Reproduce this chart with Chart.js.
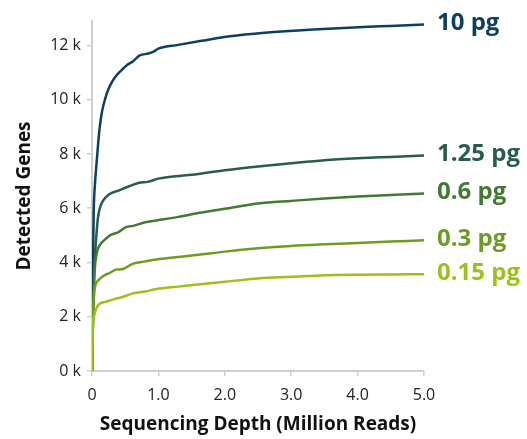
<!DOCTYPE html>
<html>
<head>
<meta charset="utf-8">
<script src="https://cdn.jsdelivr.net/npm/chart.js@4.4.0/dist/chart.umd.min.js"></script>
<style>
html,body{margin:0;padding:0;background:#fff;}
#wrap{width:527px;height:439px;position:relative;}
</style>
</head>
<body>
<div id="wrap"><canvas id="c" width="527" height="439"></canvas></div>
<script>
const seriesNames = ["10 pg", "1.25 pg", "0.6 pg", "0.3 pg", "0.15 pg"];
const seriesColors = ["#0d4060", "#285e49", "#437a32", "#6c9c20", "#9cc11a"];

const x10 = [0, 0.01, 0.025, 0.045, 0.07, 0.095, 0.12, 0.15, 0.2, 0.25, 0.3, 0.37, 0.45, 0.52, 0.62, 0.72, 0.85, 0.92, 1.0, 1.3, 1.65, 2.08, 2.6, 3.33, 4.0, 4.5, 5.0];
const y10 = [0, 3000, 5800, 6900, 7700, 8450, 9050, 9550, 10050, 10400, 10650, 10900, 11100, 11260, 11420, 11630, 11700, 11760, 11880, 12020, 12170, 12340, 12470, 12590, 12670, 12720, 12770];

const x125 = [0, 0.02, 0.04, 0.06, 0.085, 0.11, 0.16, 0.24, 0.41, 0.55, 0.71, 0.84, 1.0, 1.5, 2.0, 2.5, 3.0, 3.5, 4.0, 4.5, 5.0];
const y125 = [0, 2500, 4000, 4800, 5550, 5930, 6250, 6480, 6660, 6800, 6940, 6970, 7090, 7230, 7400, 7540, 7660, 7770, 7840, 7890, 7940];

const x06 = [0, 0.02, 0.04, 0.07, 0.12, 0.185, 0.27, 0.4, 0.51, 0.62, 0.8, 0.97, 1.3, 1.63, 2.0, 2.5, 3.0, 3.5, 4.0, 4.5, 5.0];
const y06 = [0, 2500, 3700, 4330, 4650, 4820, 5000, 5120, 5300, 5350, 5480, 5550, 5680, 5830, 5980, 6170, 6270, 6360, 6430, 6490, 6540];

const x03 = [0, 0.015, 0.03, 0.045, 0.1, 0.17, 0.27, 0.37, 0.45, 0.62, 0.8, 0.97, 1.3, 1.63, 2.0, 2.5, 3.0, 3.5, 4.0, 4.5, 5.0];
const y03 = [0, 2000, 2750, 3100, 3350, 3500, 3620, 3740, 3750, 3960, 4040, 4110, 4200, 4290, 4400, 4520, 4610, 4670, 4720, 4770, 4820];

const x015 = [0, 0.012, 0.035, 0.07, 0.12, 0.2, 0.3, 0.37, 0.45, 0.62, 0.8, 0.97, 1.3, 1.63, 2.0, 2.5, 3.0, 3.5, 4.0, 4.5, 5.0];
const y015 = [0, 1600, 2060, 2330, 2490, 2550, 2620, 2670, 2720, 2860, 2930, 3020, 3110, 3200, 3290, 3410, 3470, 3530, 3550, 3560, 3570];

const xTickValues = [0, 1, 2, 3, 4, 5];
const yTickValues = [0, 2000, 4000, 6000, 8000, 10000, 12000];

const xs = [x10, x125, x06, x03, x015];
const ys = [y10, y125, y06, y03, y015];

const datasets = seriesNames.map((name, i) => ({
  label: name,
  data: xs[i].map((x, j) => ({x: x, y: ys[i][j]})),
  borderColor: seriesColors[i],
  backgroundColor: seriesColors[i],
  borderWidth: 2.5,
  pointRadius: 0,
  fill: false,
  cubicInterpolationMode: 'monotone'
})).reverse();

const endLabels = {
  id: 'endLabels',
  afterDatasetsDraw(chart) {
    const ctx = chart.ctx;
    const xs_ = chart.scales.x, ys_ = chart.scales.y;
    ctx.save();
    ctx.font = "bold 24px 'Open Sans'";
    ctx.textAlign = 'left';
    ctx.textBaseline = 'middle';
    chart.data.datasets.forEach(ds => {
      const last = ds.data[ds.data.length - 1];
      ctx.fillStyle = ds.borderColor;
      ctx.fillText(ds.label, xs_.getPixelForValue(last.x) + 13, ys_.getPixelForValue(last.y) - 1);
    });
    ctx.restore();
  }
};

const axisColor = '#cfcfcf';
new Chart(document.getElementById('c'), {
  type: 'line',
  data: {datasets: datasets},
  plugins: [endLabels],
  options: {
    responsive: false,
    animation: false,
    layout: {padding: {left: 0, right: 103, top: 21, bottom: 0}},
    plugins: {legend: {display: false}, tooltip: {enabled: false}},
    scales: {
      x: {
        type: 'linear', min: 0, max: 5,
        afterBuildTicks: s => { s.ticks = xTickValues.map(v => ({value: v})); },
        afterFit: s => { s.height = 68; },
        ticks: {
          color: '#222', font: {family: "'Open Sans'", size: 16}, padding: 10,
          callback: v => v === 0 ? '0' : v.toFixed(1), maxRotation: 0
        },
        grid: {drawOnChartArea: false, drawTicks: true, tickLength: 5, color: axisColor, lineWidth: 1.5},
        border: {display: true, color: axisColor, width: 2},
        title: {display: true, text: 'Sequencing Depth (Million Reads)', color: '#111',
          font: {family: "'Open Sans'", size: 19, weight: 'bold'}, padding: {top: 0, bottom: 3}}
      },
      y: {
        type: 'linear', min: 0, max: 12900,
        afterBuildTicks: s => { s.ticks = yTickValues.map(v => ({value: v})); },
        afterFit: s => { s.width = 92; },
        ticks: {
          color: '#222', font: {family: "'Open Sans'", size: 16}, padding: 6,
          callback: v => (v / 1000) + ' k'
        },
        grid: {drawOnChartArea: false, drawTicks: true, tickLength: 5, color: axisColor, lineWidth: 1.5},
        border: {display: true, color: axisColor, width: 2},
        title: {display: true, text: 'Detected Genes', color: '#111',
          font: {family: "'Open Sans'", size: 19, weight: 'bold'}, padding: {top: 13, bottom: 0}}
      }
    }
  }
});
</script>
</body>
</html>
